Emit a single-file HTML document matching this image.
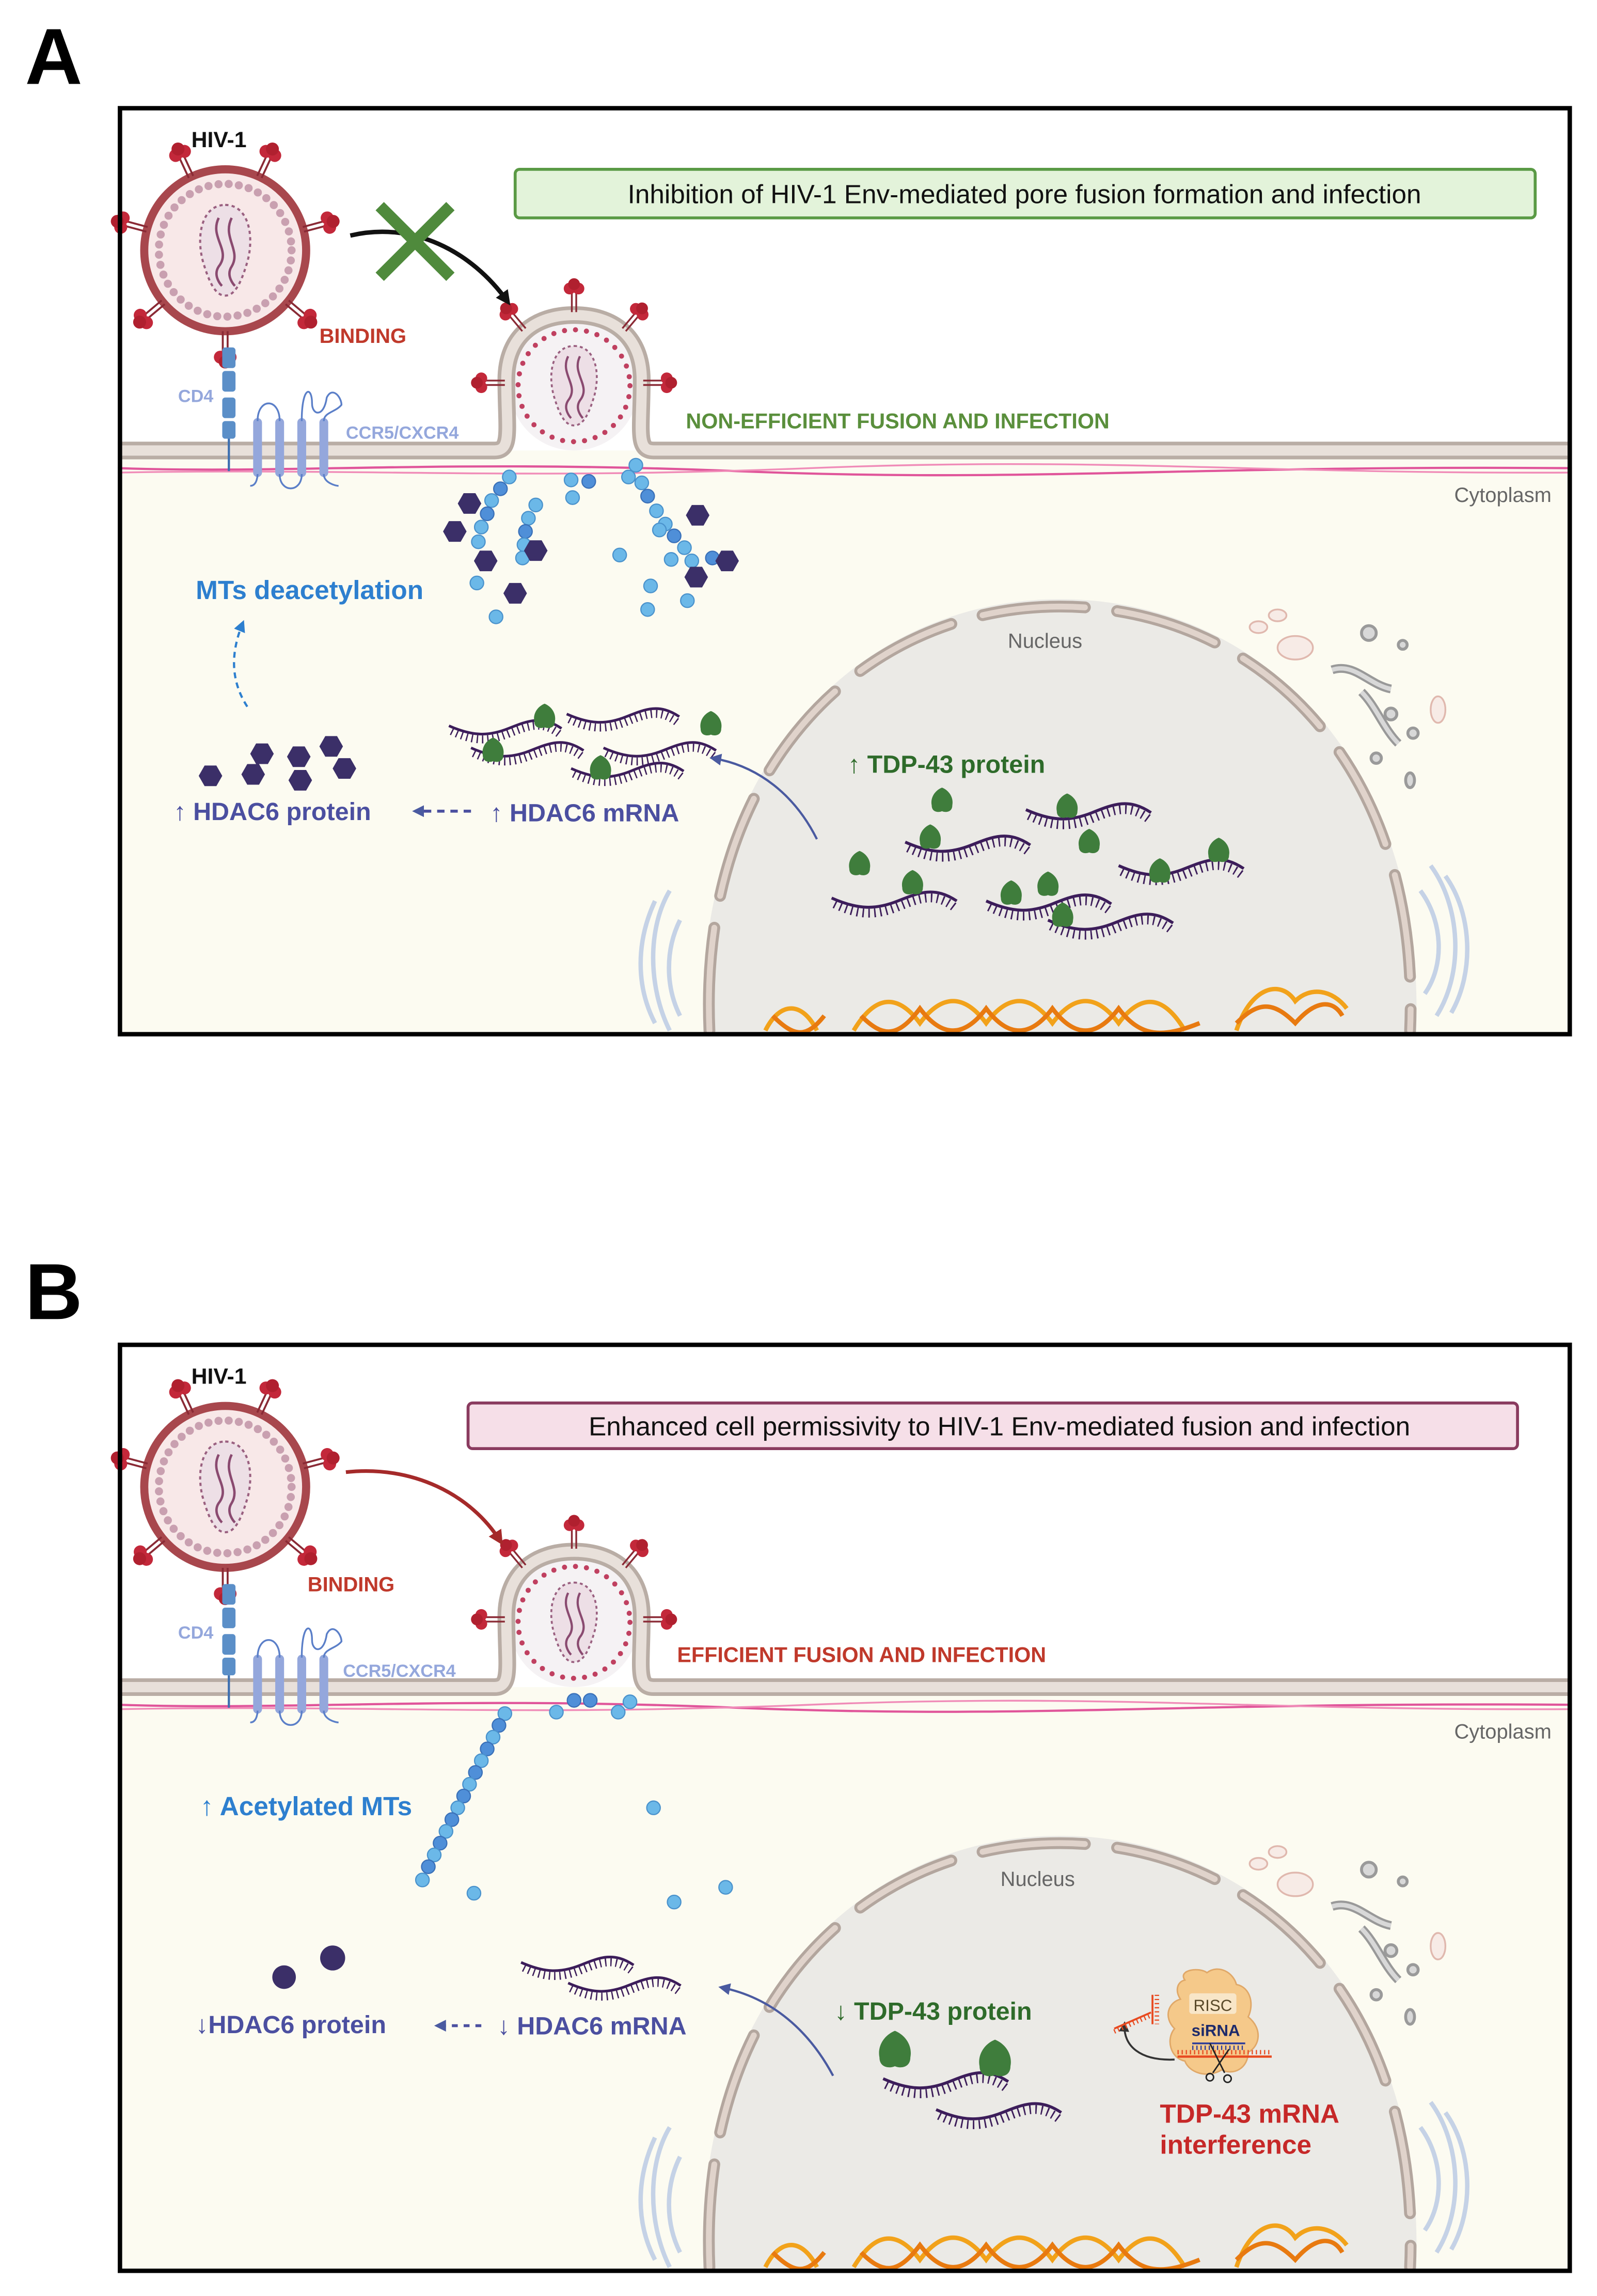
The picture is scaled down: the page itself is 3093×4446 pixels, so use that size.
<!DOCTYPE html>
<html><head><meta charset="utf-8"><style>html,body{margin:0;padding:0;background:#fff}svg{display:block}text{font-family:"Liberation Sans",sans-serif}</style></head>
<body>
<svg width="3093" height="4446" viewBox="0 0 1085 1559.6" xmlns="http://www.w3.org/2000/svg">
<defs>
<g id="spike"><line x1="-1.5" y1="0" x2="-1.5" y2="-13" stroke="#8a2a35" stroke-width="1.2"/><line x1="1.5" y1="0" x2="1.5" y2="-13" stroke="#8a2a35" stroke-width="1.2"/><circle cx="-3" cy="-16" r="4" fill="#c3283a"/><circle cx="3" cy="-16" r="4" fill="#c3283a"/><circle cx="0" cy="-19" r="4" fill="#b0202f"/></g>
<g id="virus">
<circle r="50" fill="#f8e8e8" stroke="#a8474d" stroke-width="5"/>
<circle r="41" fill="none" stroke="#c9a0b0" stroke-width="5" stroke-dasharray="0 6.3" stroke-linecap="round"/>
<path d="M0,-28 C14,-28 18,-10 14,6 C10,20 6,28 0,28 C-6,28 -10,20 -14,6 C-18,-10 -14,-28 0,-28Z" fill="#eddfe6" stroke="#9a6080" stroke-width="1.3" stroke-dasharray="2 2"/>
<path d="M-4,-20 C-10,-8 4,0 -4,10 C-8,16 -2,22 -2,22" fill="none" stroke="#8a4a70" stroke-width="1.5"/>
<path d="M4,-20 C-2,-8 10,0 4,10 C0,16 6,22 6,22" fill="none" stroke="#8a4a70" stroke-width="1.5"/>
<use href="#spike" transform="rotate(-25) translate(0,-50)"/>
<use href="#spike" transform="rotate(25) translate(0,-50)"/>
<use href="#spike" transform="rotate(-75) translate(0,-50)"/>
<use href="#spike" transform="rotate(75) translate(0,-50)"/>
<use href="#spike" transform="rotate(-130) translate(0,-50)"/>
<use href="#spike" transform="rotate(130) translate(0,-50)"/>
<use href="#spike" transform="rotate(180) translate(0,-50)"/>
</g>
<g id="mrna"><path d="M0,0 C18,8 30,8 45,2 S70,-8 85,2" fill="none" stroke="#3c1d5a" stroke-width="2"/><path d="M2,4 C18,12 30,12 45,6 S70,-4 83,6" fill="none" stroke="#3c1d5a" stroke-width="6" stroke-dasharray="1 3"/></g>
<g id="tdp"><path d="M0,-9 C5,-7 8,-2 7,3 C7,8 2,8 0,7 C-2,8 -7,8 -7,3 C-8,-2 -5,-7 0,-9Z" fill="#3f7d3c"/></g>
<polygon id="hex" points="8,0 4,7 -4,7 -8,0 -4,-7 4,-7" fill="#3b2f68"/>
<circle id="bd" r="4.6" fill="#6bb8e8" stroke="#4a92cc" stroke-width="0.8"/>
<circle id="bd2" r="4.6" fill="#4f8fd8" stroke="#3a70b8" stroke-width="0.8"/>
<marker id="ab" markerWidth="8" markerHeight="8" refX="6" refY="4" orient="auto" markerUnits="userSpaceOnUse"><path d="M0,0 L8,4 L0,8Z" fill="#4a5aa0"/></marker>
<marker id="ak" markerWidth="10" markerHeight="10" refX="7" refY="5" orient="auto" markerUnits="userSpaceOnUse"><path d="M0,0 L10,5 L0,10Z" fill="#111"/></marker>
<marker id="ar" markerWidth="10" markerHeight="10" refX="7" refY="5" orient="auto" markerUnits="userSpaceOnUse"><path d="M0,0 L10,5 L0,10Z" fill="#a52a2a"/></marker>
<marker id="ad" markerWidth="8" markerHeight="8" refX="6" refY="4" orient="auto" markerUnits="userSpaceOnUse"><path d="M0,0 L8,4 L0,8Z" fill="#2d7fcf"/></marker>
<marker id="ag" markerWidth="7" markerHeight="7" refX="5" refY="3.5" orient="auto" markerUnits="userSpaceOnUse"><path d="M0,0 L7,3.5 L0,7Z" fill="#333"/></marker>

<g id="base">
<rect x="80" y="306" width="988" height="398" fill="#fcfbf1"/>
<path d="M478,704 C470,520 585,407 720,407 C858,407 970,520 962,704Z" fill="#ebeae6"/>
<path d="M482,700 C474,520 588,412 720,412 C855,412 966,520 958,700" fill="none" stroke="#b3a69e" stroke-width="8" stroke-dasharray="70 22" stroke-linecap="round"/>
<path d="M482,700 C474,520 588,412 720,412 C855,412 966,520 958,700" fill="none" stroke="#e0d3cb" stroke-width="4" stroke-dasharray="70 22" stroke-linecap="round"/>
<g fill="none" stroke="#c5d2e6" stroke-width="3">
<path d="M455,605 C440,630 440,670 455,700"/><path d="M445,612 C432,640 432,670 445,695"/><path d="M462,625 C452,645 452,670 462,690"/>
<path d="M972,588 C992,615 995,660 976,690"/><path d="M982,595 C1000,620 1002,660 986,688"/><path d="M965,605 C980,625 982,655 968,675"/>
</g>
<g fill="none" stroke="#9a9a9a" stroke-width="2" >
<circle cx="930" cy="430" r="5" fill="#d8d8d8"/><circle cx="953" cy="438" r="3" fill="#d8d8d8"/>
<path d="M905,455 C920,450 930,465 945,468" stroke="#999" stroke-width="6"/><path d="M905,455 C920,450 930,465 945,468" stroke="#d8d8d8" stroke-width="3"/>
<path d="M925,470 C935,480 940,495 950,505" stroke="#999" stroke-width="6"/><path d="M925,470 C935,480 940,495 950,505" stroke="#d8d8d8" stroke-width="3"/>
<circle cx="945" cy="485" r="4" fill="#d8d8d8"/><circle cx="960" cy="498" r="3.5" fill="#d8d8d8"/><circle cx="935" cy="515" r="3.5" fill="#d8d8d8"/><ellipse cx="958" cy="530" rx="3" ry="5" fill="#d8d8d8"/>
</g>
<g fill="#f7ebe6" stroke="#e0b8ae" stroke-width="1.2"><ellipse cx="880" cy="440" rx="12" ry="8"/><ellipse cx="868" cy="418" rx="6" ry="4"/><ellipse cx="855" cy="426" rx="6" ry="4"/><ellipse cx="977" cy="482" rx="5" ry="9"/></g>
<g fill="none" stroke-width="3">
<path d="M520,700 C530,680 545,680 555,700 M580,700 C595,675 610,675 625,695 C640,675 655,675 670,695 C685,675 700,675 715,695 C730,675 745,675 760,695 C775,675 790,675 805,700 M840,700 C850,670 870,665 880,680 C890,670 905,672 915,685" stroke="#f2a21a"/>
<path d="M525,690 C540,705 548,705 560,690 M585,690 C600,705 610,705 625,685 C640,705 655,705 670,685 C685,705 700,705 715,685 C730,705 745,705 760,685 C775,705 790,705 815,695 M840,695 C855,680 865,680 880,695 C893,680 905,678 912,690" stroke="#e87a10"/>
</g>
<circle cx="390" cy="262" r="44" fill="#f5f2f4"/>
<path d="M80,306 H336 C348,306 344,292 344,258 C344,228 364,214 390,214 C416,214 436,228 436,258 C436,292 432,306 444,306 H1068" fill="none" stroke="#b9ada5" stroke-width="12"/>
<path d="M80,306 H336 C348,306 344,292 344,258 C344,228 364,214 390,214 C416,214 436,228 436,258 C436,292 432,306 444,306 H1068" fill="none" stroke="#e8e0da" stroke-width="7"/>
<path d="M80,318 C200,322 300,312 500,320 S800,316 1068,318" fill="none" stroke="#e0559a" stroke-width="1.5"/>
<path d="M80,321 C250,318 350,326 550,318 S850,322 1068,321" fill="none" stroke="#f08cb8" stroke-width="1.2"/>
<circle cx="390" cy="262" r="38" fill="none" stroke="#c04060" stroke-width="3.5" stroke-dasharray="0 7.5" stroke-linecap="round"/>
<path d="M390,235 C404,235 408,252 404,268 C400,282 396,289 390,289 C384,289 380,282 376,268 C372,252 376,235 390,235Z" fill="#eddfe6" stroke="#9a6080" stroke-width="1.3" stroke-dasharray="2 2"/>
<path d="M386,242 C380,254 394,262 386,272 C382,278 388,284 388,284 M394,242 C388,254 402,262 394,272 C390,278 396,284 396,284" fill="none" stroke="#8a4a70" stroke-width="1.5"/>
<use href="#spike" transform="translate(390,212)"/>
<use href="#spike" transform="translate(356,224) rotate(-40)"/>
<use href="#spike" transform="translate(424,224) rotate(40)"/>
<use href="#spike" transform="translate(343,260) rotate(-90)"/>
<use href="#spike" transform="translate(437,260) rotate(90)"/>
<use href="#virus" transform="translate(153,170) scale(1.1)"/>
<g fill="#5b8fc8"><rect x="151" y="236" width="9" height="14" rx="2"/><rect x="151" y="252" width="9" height="14" rx="2"/><rect x="151" y="270" width="9" height="14" rx="2"/><rect x="151" y="286" width="9" height="12" rx="2"/></g>
<line x1="155.5" y1="298" x2="155.5" y2="320" stroke="#3d6fb0" stroke-width="1.5"/>
<g fill="#94a7dc"><rect x="172" y="284" width="6" height="40" rx="3"/><rect x="187" y="284" width="6" height="40" rx="3"/><rect x="202" y="284" width="6" height="40" rx="3"/><rect x="217" y="284" width="6" height="40" rx="3"/></g>
<path d="M170,330 C175,330 175,322 175,322 M175,286 C175,270 190,270 190,286 M190,322 C190,335 205,335 205,322 M205,286 C205,262 212,262 212,274 C212,282 220,284 222,270 C226,262 232,270 232,275 C228,280 220,280 220,286 M220,322 C220,328 228,330 230,330" fill="none" stroke="#5b7fc8" stroke-width="1.2"/>
<text x="130" y="100" font-size="15" font-weight="bold" fill="#111">HIV-1</text>
<text x="121" y="273" font-size="12" font-weight="bold" fill="#94a7dc">CD4</text>
<text x="988" y="341" font-size="14" fill="#666">Cytoplasm</text>
</g>
</defs>

<text x="17" y="57" font-size="54" font-weight="bold" fill="#000">A</text>
<use href="#base"/>
<rect x="81.5" y="73.5" width="985" height="629" fill="none" stroke="#000" stroke-width="3"/>
<rect x="350" y="115" width="693" height="33" rx="3" fill="#e3f3da" stroke="#5a9a45" stroke-width="2"/>
<text x="696" y="138" font-size="18" text-anchor="middle" fill="#111">Inhibition of HIV-1 Env-mediated pore fusion formation and infection</text>
<path d="M238,160 C280,150 320,170 345,205" fill="none" stroke="#111" stroke-width="3" marker-end="url(#ak)"/>
<path d="M258,140 L306,188 M306,140 L258,188" stroke="#4f8a3c" stroke-width="8"/>
<text x="217" y="233" font-size="14" font-weight="bold" fill="#c0392b">BINDING</text>
<text x="235" y="298" font-size="12" font-weight="bold" fill="#94a7dc">CCR5/CXCR4</text>
<text x="466" y="291" font-size="14.5" font-weight="bold" fill="#5a8f3c">NON-EFFICIENT FUSION AND INFECTION</text>
<text x="710" y="440" font-size="14" fill="#666" text-anchor="middle">Nucleus</text>
<g>
<use href="#bd" x="346" y="324"/><use href="#bd2" x="340" y="332"/><use href="#bd" x="334" y="340"/><use href="#bd2" x="331" y="349"/><use href="#bd" x="327" y="358"/><use href="#bd" x="325" y="368"/><use href="#bd" x="324" y="396"/>
<use href="#bd" x="364" y="343"/><use href="#bd" x="359" y="352"/><use href="#bd2" x="357" y="361"/><use href="#bd" x="356" y="370"/><use href="#bd" x="355" y="379"/><use href="#bd" x="337" y="419"/>
<use href="#bd" x="388" y="326"/><use href="#bd2" x="400" y="327"/><use href="#bd" x="389" y="338"/>
<use href="#bd" x="432" y="316"/><use href="#bd" x="427" y="324"/><use href="#bd" x="436" y="328"/><use href="#bd2" x="440" y="337"/><use href="#bd" x="446" y="347"/><use href="#bd" x="452" y="356"/><use href="#bd2" x="458" y="364"/><use href="#bd" x="465" y="372"/><use href="#bd" x="470" y="381"/><use href="#bd2" x="474" y="390"/><use href="#bd" x="467" y="408"/><use href="#bd" x="448" y="360"/><use href="#bd" x="456" y="380"/><use href="#bd2" x="484" y="379"/><use href="#bd" x="421" y="377"/><use href="#bd" x="440" y="414"/><use href="#bd" x="442" y="398"/>
</g>
<g><use href="#hex" x="319" y="342"/><use href="#hex" x="309" y="361"/><use href="#hex" x="330" y="381"/><use href="#hex" x="350" y="403"/><use href="#hex" x="364" y="374"/><use href="#hex" x="474" y="350"/><use href="#hex" x="494" y="381"/><use href="#hex" x="473" y="392"/>
<use href="#hex" x="143" y="527"/><use href="#hex" x="172" y="526"/><use href="#hex" x="178" y="512"/><use href="#hex" x="203" y="514"/><use href="#hex" x="225" y="507"/><use href="#hex" x="234" y="522"/><use href="#hex" x="204" y="530"/></g>
<text x="133" y="407" font-size="18" font-weight="bold" fill="#2d7fcf">MTs deacetylation</text>
<path d="M168,480 C155,460 158,440 165,423" fill="none" stroke="#2d7fcf" stroke-width="1.5" stroke-dasharray="4 3" marker-end="url(#ad)"/>
<text x="118" y="557" font-size="17" font-weight="bold" fill="#4b4fa0">↑ HDAC6 protein</text>
<path d="M320,551 H282" stroke="#4b4fa0" stroke-width="2" stroke-dasharray="5 4" marker-end="url(#ab)"/>
<text x="333" y="558" font-size="17" font-weight="bold" fill="#4b4fa0">↑ HDAC6 mRNA</text>
<use href="#mrna" transform="translate(305,493) scale(0.9)"/><use href="#mrna" transform="translate(385,485) scale(0.9)"/>
<use href="#mrna" transform="translate(320,508) scale(0.9)"/><use href="#mrna" transform="translate(410,508) scale(0.9)"/><use href="#mrna" transform="translate(388,522) scale(0.9)"/>
<use href="#tdp" x="370" y="487"/><use href="#tdp" x="335" y="510"/><use href="#tdp" x="408" y="522"/><use href="#tdp" x="483" y="492"/>
<path d="M555,570 C540,540 515,520 484,515" fill="none" stroke="#4a5aa0" stroke-width="1.5" marker-end="url(#ab)"/>
<text x="576" y="525" font-size="17" font-weight="bold" fill="#2e6b2a">↑ TDP-43 protein</text>
<use href="#mrna" transform="translate(565,610)"/><use href="#mrna" transform="translate(615,572)"/><use href="#mrna" transform="translate(697,550)"/>
<use href="#mrna" transform="translate(670,612)"/><use href="#mrna" transform="translate(760,588)"/><use href="#mrna" transform="translate(712,625)"/>
<use href="#tdp" x="640" y="544"/><use href="#tdp" x="725" y="548"/><use href="#tdp" x="632" y="569"/><use href="#tdp" x="584" y="587"/><use href="#tdp" x="620" y="600"/><use href="#tdp" x="740" y="572"/><use href="#tdp" x="828" y="578"/><use href="#tdp" x="788" y="592"/><use href="#tdp" x="687" y="607"/><use href="#tdp" x="712" y="601"/><use href="#tdp" x="722" y="622"/>

<text x="17" y="896" font-size="54" font-weight="bold" fill="#000">B</text>
<g transform="translate(0,840)"><use href="#base"/></g>
<rect x="81.5" y="913.5" width="985" height="629" fill="none" stroke="#000" stroke-width="3"/>
<rect x="318" y="953" width="713" height="31" rx="3" fill="#f6dfe8" stroke="#8a3b5f" stroke-width="2"/>
<text x="679" y="975" font-size="18" text-anchor="middle" fill="#111">Enhanced cell permissivity to HIV-1 Env-mediated fusion and infection</text>
<path d="M235,1000 C280,995 320,1015 340,1047" fill="none" stroke="#a52a2a" stroke-width="2.5" marker-end="url(#ar)"/>
<text x="209" y="1081" font-size="14" font-weight="bold" fill="#c0392b">BINDING</text>
<text x="233" y="1139" font-size="12" font-weight="bold" fill="#94a7dc">CCR5/CXCR4</text>
<text x="460" y="1129" font-size="14.5" font-weight="bold" fill="#c0392b">EFFICIENT FUSION AND INFECTION</text>
<text x="705" y="1281" font-size="14" fill="#666" text-anchor="middle">Nucleus</text>
<g>
<use href="#bd" x="343" y="1164"/><use href="#bd2" x="339" y="1172"/><use href="#bd" x="335" y="1180"/><use href="#bd2" x="331" y="1188"/><use href="#bd" x="327" y="1196"/><use href="#bd2" x="323" y="1204"/><use href="#bd" x="319" y="1212"/><use href="#bd2" x="315" y="1220"/><use href="#bd" x="311" y="1228"/><use href="#bd2" x="307" y="1236"/><use href="#bd" x="303" y="1244"/><use href="#bd2" x="299" y="1252"/><use href="#bd" x="295" y="1260"/><use href="#bd2" x="291" y="1268"/><use href="#bd" x="287" y="1277"/>
<use href="#bd" x="378" y="1163"/><use href="#bd2" x="390" y="1155"/><use href="#bd2" x="401" y="1155"/><use href="#bd" x="420" y="1163"/><use href="#bd" x="428" y="1156"/>
<use href="#bd" x="444" y="1228"/><use href="#bd" x="322" y="1286"/><use href="#bd" x="458" y="1292"/><use href="#bd" x="493" y="1282"/>
</g>
<text x="136" y="1233" font-size="18" font-weight="bold" fill="#2d7fcf">↑ Acetylated MTs</text>
<circle cx="193" cy="1343" r="8" fill="#3b2f68"/><circle cx="226" cy="1330" r="8.5" fill="#3b2f68"/>
<text x="133" y="1381" font-size="17" font-weight="bold" fill="#4b4fa0">↓HDAC6 protein</text>
<path d="M327,1376 H297" stroke="#4b4fa0" stroke-width="2" stroke-dasharray="4 4" marker-end="url(#ab)"/>
<text x="338" y="1382" font-size="17" font-weight="bold" fill="#4b4fa0">↓ HDAC6 mRNA</text>
<use href="#mrna" transform="translate(354,1333) scale(0.9)"/><use href="#mrna" transform="translate(386,1347) scale(0.9)"/>
<path d="M566,1410 C550,1380 525,1357 490,1350" fill="none" stroke="#4a5aa0" stroke-width="1.5" marker-end="url(#ab)"/>
<text x="567" y="1372" font-size="17" font-weight="bold" fill="#2e6b2a">↓ TDP-43 protein</text>
<use href="#mrna" transform="translate(600,1412)"/><use href="#mrna" transform="translate(636,1433)"/>
<g transform="translate(608,1393) scale(1.5)"><use href="#tdp"/></g><g transform="translate(676,1399) scale(1.5)"><use href="#tdp"/></g>
<path d="M805,1345 C800,1338 815,1336 820,1340 C828,1334 838,1340 840,1348 C850,1350 852,1362 848,1370 C858,1378 856,1390 848,1394 C848,1405 838,1410 830,1406 C820,1412 808,1408 805,1400 C795,1398 792,1385 798,1378 C790,1370 794,1360 802,1358 C798,1352 800,1346 805,1345Z" fill="#f5c98a" stroke="#e0a868" stroke-width="1"/>
<rect x="808" y="1354" width="32" height="14" rx="2" fill="#f8e6c8"/>
<text x="824" y="1366" font-size="11" fill="#5a4a2a" text-anchor="middle">RISC</text>
<text x="826" y="1383" font-size="11" font-weight="bold" fill="#1e2a6a" text-anchor="middle">siRNA</text>
<line x1="810" y1="1388" x2="846" y2="1388" stroke="#2a3a9a" stroke-width="1.2"/>
<line x1="810" y1="1391" x2="846" y2="1391" stroke="#2a3a9a" stroke-width="3" stroke-dasharray="0.8 2"/>
<line x1="800" y1="1397" x2="864" y2="1397" stroke="#e84a20" stroke-width="1.5"/>
<line x1="800" y1="1394" x2="864" y2="1394" stroke="#e84a20" stroke-width="3" stroke-dasharray="0.8 2"/>
<path d="M822,1388 L832,1408 M835,1392 L824,1408" stroke="#222" stroke-width="1"/><circle cx="822" cy="1411" r="2.5" fill="none" stroke="#222"/><circle cx="834" cy="1412" r="2.5" fill="none" stroke="#222"/>
<path d="M798,1399 C775,1400 763,1390 764,1375" fill="none" stroke="#333" stroke-width="1.3" marker-end="url(#ag)"/>
<path d="M757,1378 L782,1367 M783,1355 V1375" stroke="#e84a20" stroke-width="1.3"/><path d="M757,1380 L782,1369" stroke="#e84a20" stroke-width="3" stroke-dasharray="0.8 2"/><line x1="786" y1="1355" x2="786" y2="1375" stroke="#e84a20" stroke-width="3" stroke-dasharray="0.8 2"/>
<text x="788" y="1442" font-size="18" font-weight="bold" fill="#c62828">TDP-43 mRNA</text>
<text x="788" y="1463" font-size="18" font-weight="bold" fill="#c62828">interference</text>
</svg>
</body></html>
